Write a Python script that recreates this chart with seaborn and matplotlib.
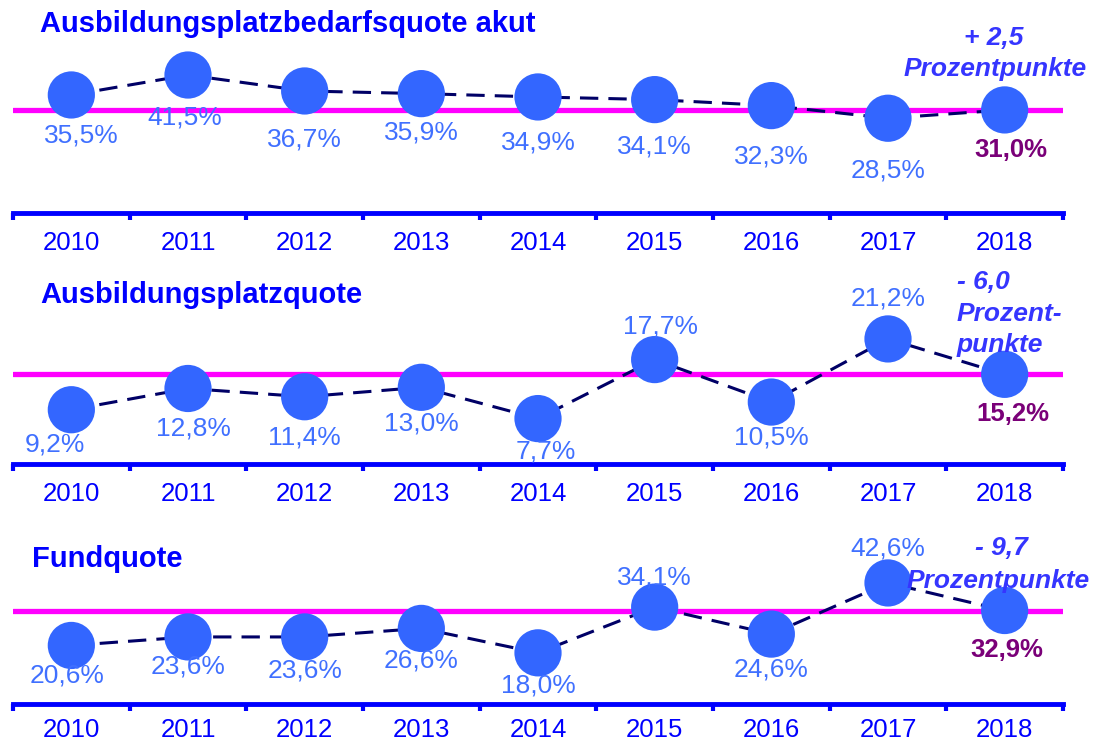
import matplotlib
matplotlib.use("Agg")
import matplotlib.pyplot as plt
import numpy as np
import seaborn as sns

# ── data ───────────────────────────────────────────────────────
years = [2010, 2011, 2012, 2013, 2014, 2015, 2016, 2017, 2018]
bedarf_akut = [35.5, 41.5, 36.7, 35.9, 34.9, 34.1, 32.3, 28.5, 31.0]
platzquote = [9.2, 12.8, 11.4, 13.0, 7.7, 17.7, 10.5, 21.2, 15.2]
fundquote = [20.6, 23.6, 23.6, 26.6, 18.0, 34.1, 24.6, 42.6, 32.9]
titles = ["Ausbildungsplatzbedarfsquote akut", "Ausbildungsplatzquote", "Fundquote"]
changes = ["+ 2,5", "- 6,0", "- 9,7"]

# ── style ──────────────────────────────────────────────────────
sns.set_style("white")
plt.rcParams["font.family"] = ["Liberation Sans", "DejaVu Sans"]

W, H = 1108, 745
BLUE = "#0000ff"
MARKER = "#3366ff"
LABEL = "#4070ff"
NAVY = "#000066"
MAGENTA = "#ff00ff"
PURPLE = "#7a0078"
NOTE = "#3535ff"

# axes boxes in pixels (top, bottom), y-limit and year label pad
boxes = [(13, 213, 60.15, 13), (300, 464, 27.8, 13), (520, 704, 64.75, 10)]
# label offsets in pixels (dx, dy) relative to each marker
offsets = [
    [(10, -41), (-3, -42), (0, -49), (0, -39), (0, -46), (0, -47), (0, -51), (0, -52), (6, -40)],
    [(-16, -35), (5, -40), (0, -41), (0, -36), (8, -33), (6, 33), (0, -35), (0, 40), (8, -40)],
    [(-4, -30), (0, -30), (0, -34), (0, -32), (0, -33), (0, 30), (0, -35), (0, 34), (2, -39)],
]

fig = plt.figure(figsize=(W / 100, H / 100), dpi=100)

def fx(x):
    return x / W

def fy(y):
    return 1 - y / H

series = [bedarf_akut, platzquote, fundquote]
for i, vals in enumerate(series):
    top, bottom, ytop, pad = boxes[i]
    ax = fig.add_axes([fx(13), fy(bottom), fx(1063 - 13), (bottom - top) / H])
    ax.axhline(vals[-1], color=MAGENTA, lw=3.8, zorder=1)
    sns.lineplot(x=years, y=vals, ax=ax, color=NAVY, lw=2.2, zorder=2,
                 dashes=False, linestyle=(0, (6, 3.3)))
    sns.scatterplot(x=years, y=vals, ax=ax, s=34 ** 2, color=MARKER,
                    edgecolor="none", zorder=3, clip_on=False)
    for j, (yr, v) in enumerate(zip(years, vals)):
        dx, dy = offsets[i][j]
        last = j == len(vals) - 1
        ax.annotate(f"{v:.1f}%".replace(".", ","), (yr, v), xytext=(dx, dy),
                    textcoords="offset pixels", ha="center", va="center",
                    fontsize=19 if not last else 18.5, color=PURPLE if last else LABEL,
                    fontweight="bold" if last else "normal", zorder=4)
    ax.set_xlim(2009.5, 2018.5)
    ax.set_ylim(0, ytop)
    ax.set_xticks(np.arange(2009.5, 2019, 1.0))
    ax.set_xticklabels([])
    ax.set_xticks(years, minor=True)
    ax.set_xticklabels([str(y) for y in years], minor=True)
    ax.tick_params(axis="x", which="major", direction="out", length=5,
                   width=3, color=BLUE, bottom=True)
    ax.tick_params(axis="x", which="minor", length=0, pad=pad,
                   labelsize=18.5, labelcolor=BLUE)
    ax.set_yticks([])
    ax.set_xlabel("")
    ax.set_ylabel("")
    for s in ["top", "left", "right"]:
        ax.spines[s].set_visible(False)
    ax.spines["bottom"].set_color(BLUE)
    ax.spines["bottom"].set_linewidth(3.5)
    ax.patch.set_alpha(0)

# titles
title_kw = dict(fontsize=21, fontweight="bold", color=BLUE, va="center")
fig.text(fx(40), fy(24), titles[0], **title_kw)
fig.text(fx(40), fy(295), titles[1], **title_kw)
fig.text(fx(32), fy(559), titles[2], **title_kw)

# change notes
note = dict(fontsize=19, fontweight="bold", fontstyle="italic", color=NOTE, va="center")
fig.text(fx(994), fy(38), changes[0], ha="center", **note)
fig.text(fx(995), fy(69), "Prozentpunkte", ha="center", **note)
fig.text(fx(957), fy(282), changes[1], ha="left", **note)
fig.text(fx(957), fy(314), "Prozent-", ha="left", **note)
fig.text(fx(957), fy(345), "punkte", ha="left", **note)
fig.text(fx(1001), fy(548), changes[2], ha="center", **note)
fig.text(fx(998), fy(581), "Prozentpunkte", ha="center", **note)

plt.savefig("out.png", dpi=100)
